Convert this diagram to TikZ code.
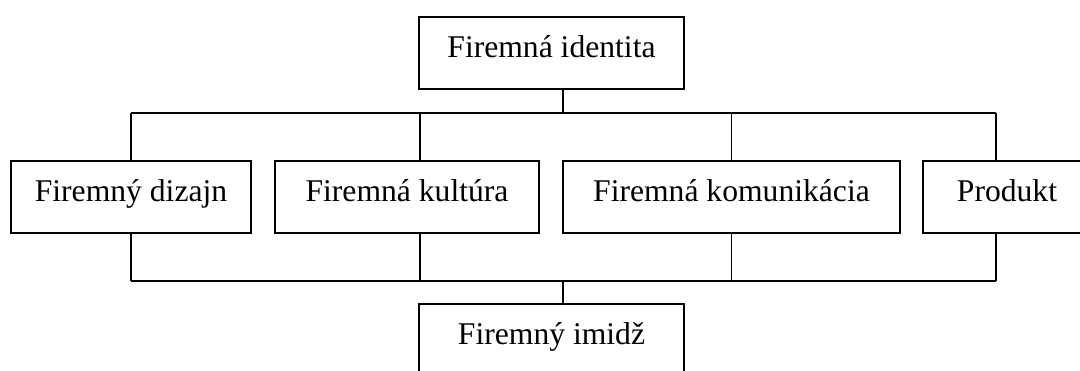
\documentclass[tikz,border=0pt]{standalone}
\usepackage{fontspec}
\setmainfont{Liberation Serif}
\begin{document}
\begin{tikzpicture}[x=0.02cm,y=-0.02cm,line width=1pt,
        box/.style={draw,inner sep=0pt,minimum height=1.44cm,
            text height=10pt,text depth=4.9pt,
            font=\fontsize{18}{22}\selectfont}]
                \useasboundingbox (0,0) rectangle (1080,371);
                \node[box,minimum width=5.3cm] (identita) at (551.5,53) {Firemná identita};
                \node[box,minimum width=4.8cm] (dizajn) at (131,197) {Firemný dizajn};
                \node[box,minimum width=5.28cm] (kultura) at (407,197) {Firemná kultúra};
                \node[box,minimum width=6.74cm] (komunikacia) at (731.5,197) {Firemná komunikácia};
                \node[box,minimum width=3.36cm] (produkt) at (1007,197) {Produkt};
                \node[box,minimum width=5.3cm] (imidz) at (551.5,340) {Firemný imidž};
                \coordinate (jtop) at (563,113);
                \coordinate (jbot) at (563,281);
                \foreach \x [count=\i] in {131,420,731.5,996} {
                    \coordinate (t\i) at (\x,113);
                    \coordinate (b\i) at (\x,281);
                }
                \draw (identita.south -| jtop) -- (jtop);
                \draw (t1) -- (t4);
                \draw (b1) -- (b4);
                \draw (jbot) -- (imidz.north -| jbot);
                \foreach \n [count=\i] in {dizajn,kultura,komunikacia,produkt} {
                    \draw (t\i) -- (t\i |- \n.north);
                    \draw (\n.south -| b\i) -- (b\i);
                }
            \end{tikzpicture}
\end{document}
